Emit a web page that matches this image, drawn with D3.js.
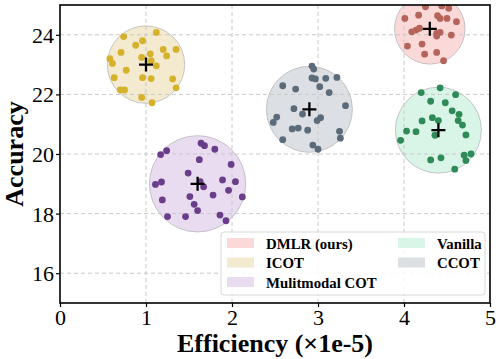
<!DOCTYPE html>
<html>
<head>
<meta charset="utf-8">
<script src="https://cdn.jsdelivr.net/npm/d3@7"></script>
<style>
  body { margin: 0; background: #fff; }
  svg text { font-family: "Liberation Serif", "Times New Roman", serif; fill: #000; }
  .axlabel { font-size: 26px; font-weight: bold; }
  .leg text { font-size: 14.8px; font-weight: bold; }
</style>
</head>
<body>
<div id="chart"></div>
<script>
var width = 499,
    height = 359;
var margin = {left: 60, top: 5, right: 9, bottom: 56};
var w = width - margin.left - margin.right,
    h = height - margin.top - margin.bottom;

// methods, in legend order
var methods = ['DMLR (ours)', 'ICOT', 'Mulitmodal COT', 'Vanilla', 'CCOT'];
var centerX = [4.3, 1.0, 1.6, 4.4, 2.9];
var centerY = [24.2, 23.0, 19.0, 20.8, 21.5];
var radius = [0.41, 0.45, 0.56, 0.5, 0.5];   // in x units
var dotColors = ['#b5645a', '#d6b12a', '#6a3d8a', '#2e8b57', '#5b6b7a'];
var fillColors = ['#fbd9d9', '#f3eacf', '#e9dcf0', '#d8f5e7', '#dcdfe3'];

var dmlrX = [4.25, 4.44, 4.52, 4.01, 4.17, 4.39, 4.42, 4.50, 4.61, 4.09, 4.14, 4.18, 4.38, 4.42, 4.38, 4.55, 4.04, 4.21, 4.24, 4.38, 4.46];
var dmlrY = [24.94, 24.97, 24.89, 24.55, 24.66, 24.64, 24.55, 24.55, 24.44, 24.10, 24.16, 24.22, 24.05, 24.08, 23.96, 23.99, 23.62, 23.69, 23.35, 23.41, 23.13];

var icotX = [0.74, 1.12, 0.88, 0.96, 0.71, 1.20, 1.35, 1.24, 1.05, 0.95, 0.58, 0.61, 1.06, 1.12, 0.77, 0.63, 0.96, 1.06, 1.31, 1.35, 0.70, 0.75, 0.95, 1.07];
var icotY = [23.94, 24.08, 23.65, 23.80, 23.41, 23.51, 23.51, 23.29, 23.36, 23.24, 23.20, 23.04, 23.13, 22.96, 22.81, 22.56, 22.56, 22.53, 22.52, 22.22, 22.15, 22.15, 21.90, 21.72];

var mmX = [1.64, 1.68, 1.80, 1.24, 1.17, 1.62, 1.99, 1.49, 1.89, 2.04, 1.11, 1.18, 1.63, 1.67, 1.96, 1.78, 1.51, 2.12, 1.19, 1.56, 1.60, 1.86, 1.25, 1.46, 1.93];
var mmY = [20.36, 20.28, 20.16, 20.11, 19.98, 19.81, 19.65, 19.36, 19.13, 19.07, 18.98, 19.06, 19.07, 18.90, 18.78, 18.62, 18.57, 18.56, 18.46, 18.31, 18.10, 17.95, 17.90, 17.90, 17.76];

var vanX = [4.42, 4.20, 4.60, 4.31, 4.48, 4.56, 4.64, 4.33, 4.40, 4.63, 4.68, 4.21, 4.03, 4.14, 4.36, 4.72, 3.96, 4.70, 4.78, 4.72, 4.43, 4.31, 4.59];
var vanY = [22.22, 22.06, 21.99, 21.77, 21.72, 21.45, 21.33, 21.22, 21.12, 21.12, 20.97, 21.11, 20.77, 20.75, 20.63, 20.64, 20.46, 19.96, 20.00, 19.78, 19.87, 19.80, 19.49];

var ccotX = [2.93, 2.95, 2.93, 2.97, 3.09, 3.22, 2.59, 2.74, 3.02, 3.13, 3.32, 2.72, 2.82, 3.03, 2.99, 2.52, 2.48, 2.70, 2.77, 2.88, 3.25, 3.26, 2.59, 2.94, 3.00];
var ccotY = [22.95, 22.85, 22.55, 22.52, 22.54, 22.57, 22.29, 22.18, 22.26, 22.06, 21.62, 21.52, 21.34, 21.22, 21.12, 21.24, 21.06, 20.84, 20.87, 20.80, 20.76, 20.53, 20.48, 20.30, 20.16];

var xTicks = [0, 1, 2, 3, 4, 5];
var yTicks = [16, 18, 20, 22, 24];

var pointsX = [dmlrX, icotX, mmX, vanX, ccotX];
var pointsY = [dmlrY, icotY, mmY, vanY, ccotY];

var svg = d3.select('#chart').append('svg')
    .attr('width', width)
    .attr('height', height);

var x = d3.scaleLinear().domain([0, 5]).range([0, w]);
var y = d3.scaleLinear().domain([15, 25]).range([h, 0]);

var vis = svg.append('g')
    .attr('transform', 'translate(' + margin.left + ',' + margin.top + ')');

svg.append('defs').append('clipPath').attr('id', 'plot')
  .append('rect').attr('width', w).attr('height', h);

var groups = methods.map(function(m, i) {
    return {
        name: m, cx: centerX[i], cy: centerY[i], r: radius[i],
        dot: dotColors[i], fill: fillColors[i],
        pts: pointsX[i].map(function(v, j) { return [v, pointsY[i][j]]; })
    };
});

var plot = vis.append('g').attr('clip-path', 'url(#plot)');

plot.selectAll('circle.halo').data(groups).enter()
  .append('circle')
    .attr('class', 'halo')
    .attr('cx', function(d) { return x(d.cx); })
    .attr('cy', function(d) { return y(d.cy); })
    .attr('r', function(d) { return x(d.r) - x(0); })
    .attr('fill', function(d) { return d.fill; })
    .attr('stroke', '#b8b8b8')
    .attr('stroke-width', 0.8);

// grid (drawn over the halos, under the dots)
plot.append('g').selectAll('line').data(xTicks.slice(1, -1)).enter()
  .append('line')
    .attr('x1', x).attr('x2', x)
    .attr('y1', 0).attr('y2', h)
    .attr('stroke', '#c8c8c8').attr('stroke-width', 1)
    .attr('stroke-dasharray', '4,3');
plot.append('g').selectAll('line').data(yTicks).enter()
  .append('line')
    .attr('x1', 0).attr('x2', w)
    .attr('y1', y).attr('y2', y)
    .attr('stroke', '#c8c8c8').attr('stroke-width', 1)
    .attr('stroke-dasharray', '4,3');

groups.forEach(function(g) {
    plot.append('g').selectAll('circle').data(g.pts).enter()
      .append('circle')
        .attr('cx', function(d) { return x(d[0]); })
        .attr('cy', function(d) { return y(d[1]); })
        .attr('r', 3.4)
        .attr('fill', g.dot);
});

// centre crosses
var cs = 7;
groups.forEach(function(g) {
    var cx = x(g.cx), cy = y(g.cy);
    plot.append('path')
        .attr('d', 'M' + (cx - cs) + ',' + cy + 'H' + (cx + cs) + 'M' + cx + ',' + (cy - cs) + 'V' + (cy + cs))
        .attr('stroke', '#000').attr('stroke-width', 2.3);
});

// axes
var xAxis = vis.append('g')
    .attr('transform', 'translate(0,' + h + ')')
    .call(d3.axisBottom(x).tickValues(xTicks).tickFormat(d3.format('d')).tickSize(4).tickPadding(2));
var yAxis = vis.append('g')
    .call(d3.axisLeft(y).tickValues(yTicks).tickFormat(d3.format('d')).tickSize(4).tickPadding(2));
[xAxis, yAxis].forEach(function(a) {
    a.select('.domain').remove();
    a.selectAll('.tick line').attr('stroke', '#000').attr('stroke-width', 1.2);
    a.selectAll('.tick text')
        .attr('font-family', '"Liberation Serif", "Times New Roman", serif')
        .attr('font-size', 22)
        .style('font-family', '"Liberation Serif", "Times New Roman", serif')
        .style('font-size', '22px');
});
yAxis.selectAll('.tick text').attr('dy', '0.34em');

vis.append('rect')
    .attr('width', w).attr('height', h)
    .attr('fill', 'none').attr('stroke', '#000').attr('stroke-width', 1.6);

svg.append('text').attr('class', 'axlabel')
    .attr('x', margin.left + w / 2).attr('y', 352)
    .attr('text-anchor', 'middle')
    .text('Efficiency (×1e-5)');
svg.append('text').attr('class', 'axlabel')
    .attr('transform', 'translate(23,' + (margin.top + h / 2) + ') rotate(-90)')
    .attr('text-anchor', 'middle')
    .text('Accuracy');

// legend
var leg = svg.append('g').attr('class', 'leg').attr('transform', 'translate(221,232)');
leg.append('rect')
    .attr('width', 264).attr('height', 63).attr('rx', 3)
    .attr('fill', '#fff').attr('fill-opacity', 0.85)
    .attr('stroke', '#d8d8d8').attr('stroke-width', 1);
var items = leg.selectAll('g.item').data(groups).enter()
  .append('g').attr('class', 'item')
    .attr('transform', function(d, i) {
        var col = i < 3 ? 0 : 1, row = i < 3 ? i : i - 3;
        return 'translate(' + (6 + col * 171) + ',' + (6 + row * 19.5) + ')';
    });
items.append('rect')
    .attr('width', 27).attr('height', 10)
    .attr('fill', function(d) { return d.fill; });
items.append('text')
    .attr('x', 39).attr('y', 10.5)
    .text(function(d) { return d.name; });
</script>
</body>
</html>
